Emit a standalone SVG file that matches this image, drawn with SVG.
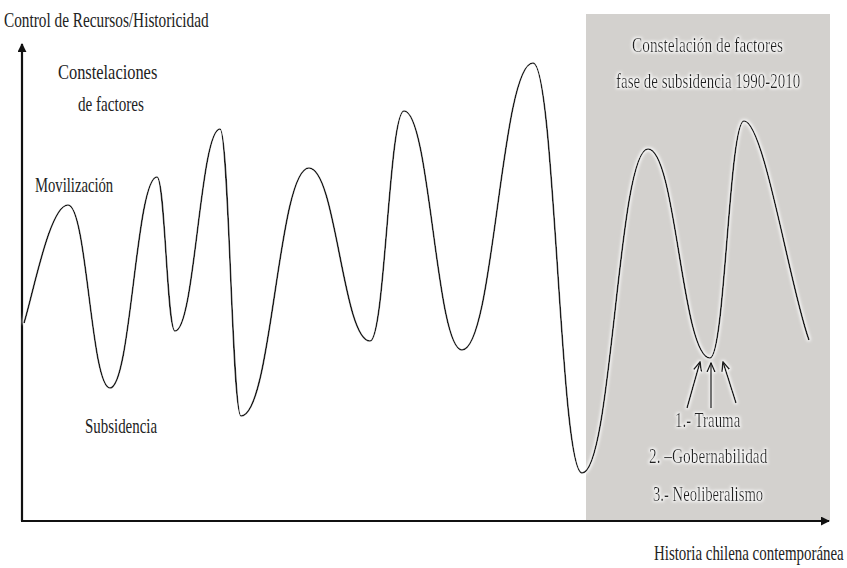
<svg xmlns="http://www.w3.org/2000/svg" width="847" height="568" viewBox="0 0 847 568">
<style>
.t{font-family:'Liberation Serif','Times New Roman','DejaVu Serif',serif;font-size:22px;fill:#222}
.curve{fill:none;stroke:#1a1a1a;stroke-width:1.7;stroke-linejoin:round}
.axis{fill:none;stroke:#111;stroke-width:2.2}
.arr{fill:none;stroke:#1a1a1a;stroke-width:1.6}
</style>
<defs>
<filter id="glow" x="-10%" y="-10%" width="120%" height="120%">
<feMorphology in="SourceAlpha" operator="dilate" radius="1.2" result="d"/>
<feGaussianBlur in="d" stdDeviation="1.6" result="b"/>
<feFlood flood-color="#ffffff" flood-opacity="0.9"/>
<feComposite in2="b" operator="in" result="g"/>
<feMerge><feMergeNode in="g"/><feMergeNode in="SourceGraphic"/></feMerge>
</filter>
<marker id="ah" viewBox="0 0 10 10" refX="9" refY="5" markerWidth="9" markerHeight="9" markerUnits="userSpaceOnUse" orient="auto">
<path d="M0,0 L10,5 L0,10 Z" fill="#111"/>
</marker>
<marker id="oh" viewBox="0 0 10 10" refX="9" refY="5" markerWidth="10" markerHeight="10" markerUnits="userSpaceOnUse" orient="auto">
<path d="M0,1 L9,5 L0,9" fill="none" stroke="#1a1a1a" stroke-width="1.6"/>
</marker>
</defs>
<rect width="847" height="568" fill="#ffffff"/>
<g id="phase-box">
<rect x="586" y="14" width="244" height="507" fill="#d3d1ce"/>
</g>
<g id="connectors">
<line id="y-axis" class="axis" x1="22" y1="521" x2="22" y2="44" marker-end="url(#ah)"/>
<line id="x-axis" class="axis" x1="21" y1="521" x2="829" y2="521" marker-end="url(#ah)"/>
<path id="wave" class="curve" filter="url(#glow)" d="M24,323 C34,290 50,205 68,205 C87,205 91,388 110,388 C131,388 136,177 157,177 C165,177 167,331 175,331 C195,331 200,129 220,129 C229,129 232,416 241,416 C272,416 278,168 309,168 C336,168 343,341 370,341 C385,341 389,111 404,111 C430,111 436,350 462,350 C494,350 501,63 533,63 C555,63 560,473 582,473 C612,473 618,149 648,149 C676,149 682,358 710,358 C725,358 729,121 744,121 C764,121 790,288 809,340"/>
<g id="factor-arrows" filter="url(#glow)">
<line class="arr" x1="687" y1="408" x2="700" y2="362" marker-end="url(#oh)"/>
<line class="arr" x1="711" y1="408" x2="711" y2="363" marker-end="url(#oh)"/>
<line class="arr" x1="736" y1="403" x2="723" y2="362" marker-end="url(#oh)"/>
</g>
</g>
<g id="y-label"><text class="t" transform="translate(4,27) scale(0.68,1)" textLength="301" lengthAdjust="spacingAndGlyphs">Control de Recursos/Historicidad</text></g>
<g id="constelaciones"><text class="t" transform="translate(58,79) scale(0.68,1)" textLength="146" lengthAdjust="spacingAndGlyphs">Constelaciones</text>
<text class="t" transform="translate(78,111) scale(0.68,1)" textLength="97" lengthAdjust="spacingAndGlyphs">de factores</text></g>
<g id="movilizacion"><text class="t" transform="translate(35,192) scale(0.68,1)" textLength="115" lengthAdjust="spacingAndGlyphs">Movilización</text></g>
<g id="subsidencia"><text class="t" transform="translate(85,433) scale(0.68,1)" textLength="106" lengthAdjust="spacingAndGlyphs">Subsidencia</text></g>
<g id="phase-title" filter="url(#glow)"><text class="t" transform="translate(632,52) scale(0.68,1)" textLength="222" lengthAdjust="spacingAndGlyphs">Constelación  de factores</text>
<text class="t" transform="translate(616,88) scale(0.68,1)" textLength="271" lengthAdjust="spacingAndGlyphs">fase de subsidencia 1990-2010</text></g>
<g id="factors" filter="url(#glow)"><text class="t" transform="translate(675,427) scale(0.68,1)" textLength="96" lengthAdjust="spacingAndGlyphs">1.- Trauma</text>
<text class="t" transform="translate(649,463) scale(0.68,1)" textLength="174" lengthAdjust="spacingAndGlyphs">2. –Gobernabilidad</text>
<text class="t" transform="translate(653,501) scale(0.68,1)" textLength="162" lengthAdjust="spacingAndGlyphs">3.- Neoliberalismo</text></g>
<g id="x-label"><text class="t" transform="translate(654,560) scale(0.68,1)" textLength="279" lengthAdjust="spacingAndGlyphs">Historia chilena contemporánea</text></g>
</svg>
